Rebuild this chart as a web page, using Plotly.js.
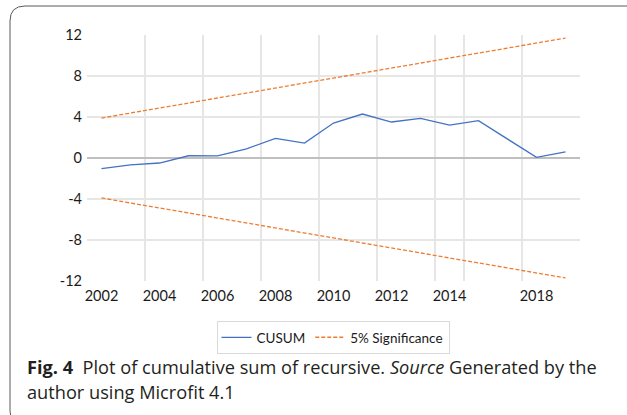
<!DOCTYPE html>
<html>
<head>
<meta charset="utf-8">
<script src="https://cdn.plot.ly/plotly-3.0.1.min.js"></script>
<style>html,body{margin:0;padding:0;background:#fff;}#chart{width:627px;height:415px;}</style>
</head>
<body>
<div id="chart"></div>
<script>
// Observation positions on the category axis (one slot between 2015 and the last two points is empty)
const obsPositions = [0,1,2,3,4,5,6,7,8,9,10,11,12,13,15,16];
const cusum = [-1.04,-0.68,-0.49,0.22,0.2,0.9,1.91,1.46,3.41,4.29,3.51,3.86,3.2,3.64,0.06,0.59];
const upper5 = [3.9,4.39,4.88,5.36,5.85,6.34,6.83,7.31,7.8,8.29,8.78,9.26,9.75,10.24,11.21,11.7];
const lower5 = [-3.9,-4.39,-4.88,-5.36,-5.85,-6.34,-6.83,-7.31,-7.8,-8.29,-8.78,-9.26,-9.75,-10.24,-11.21,-11.7];
const xTickPositions = [0,2,4,6,8,10,12,15];
const xTickLabels = ['2002','2004','2006','2008','2010','2012','2014','2018'];
const xGridPositions = [1.5,3.5,5.5,7.5,9.5,11.5,12.5,14.5];
const yTickValues = [-12,-8,-4,0,4,8,12];
const yGridValues = [-8,-4,4,8];

const L = 87, R = 580, T = 35, B = 281;
const fx = px => (px - L) / (R - L);
const fy = py => (B - py) / (B - T);

const tickFont = {family: 'Lato, "Open Sans", sans-serif', size: 14.5, color: '#1a1a1a'};

const traces = [
  {x: obsPositions, y: cusum, type: 'scatter', mode: 'lines', name: 'CUSUM',
   line: {color: '#4472C4', width: 1.3}},
  {x: obsPositions, y: upper5, type: 'scatter', mode: 'lines', name: '5% Significance',
   legendgroup: 'sig', line: {color: '#ED7D31', width: 1.3, dash: '4px,2px'}},
  {x: obsPositions, y: lower5, type: 'scatter', mode: 'lines', name: '5% Significance',
   legendgroup: 'sig', showlegend: false, line: {color: '#ED7D31', width: 1.3, dash: '4px,2px'}}
];

const framePath = 'M ' + fx(25) + ',' + fy(426) + ' Q ' + fx(10) + ',' + fy(426) + ' ' + fx(10) + ',' + fy(411) +
  ' L ' + fx(10) + ',' + fy(21) + ' Q ' + fx(10) + ',' + fy(6) + ' ' + fx(25) + ',' + fy(6) +
  ' L ' + fx(650) + ',' + fy(6);

const layout = {
  width: 627, height: 415,
  margin: {l: L, r: 627 - R, t: T, b: 415 - B},
  paper_bgcolor: '#ffffff', plot_bgcolor: '#ffffff',
  showlegend: true,
  legend: {orientation: 'h', x: fx(333), xanchor: 'center', y: fy(321), yanchor: 'top',
           bordercolor: '#D9D9D9', borderwidth: 1, bgcolor: '#ffffff',
           font: {family: 'Lato, "Open Sans", sans-serif', size: 13.5, color: '#1a1a1a'},
           itemwidth: 30},
  xaxis: {range: [-0.5, 16.5], tickmode: 'array', tickvals: xTickPositions, ticktext: xTickLabels,
          showgrid: false, zeroline: false, showline: false, ticks: '', tickfont: tickFont,
          ticklabelstandoff: 4,
          minor: {tickmode: 'array', tickvals: xGridPositions, showgrid: true, gridcolor: '#E6E6E6', gridwidth: 1.3, ticks: ''}},
  yaxis: {range: [-12, 12], tickmode: 'array', tickvals: yTickValues, ticktext: yTickValues.map(String),
          showgrid: false, zeroline: true, zerolinecolor: '#BFBFBF', zerolinewidth: 1.3,
          showline: false, ticks: '', tickfont: tickFont, ticklabelstandoff: 4,
          minor: {tickmode: 'array', tickvals: yGridValues, showgrid: true, gridcolor: '#E6E6E6', gridwidth: 1.3, ticks: ''}},
  shapes: [
    {type: 'path', xref: 'paper', yref: 'paper', path: framePath, line: {color: '#5a5a5a', width: 1}, layer: 'above'}
  ],
  annotations: [
    {xref: 'paper', yref: 'paper', x: fx(25), y: fy(367), xanchor: 'left', yanchor: 'middle', showarrow: false,
     text: '<b>Fig. 4</b>  Plot of cumulative sum of recursive. <i>Source</i> Generated by the',
     font: {family: '"Open Sans", sans-serif', size: 18.2, color: '#231f20'}},
    {xref: 'paper', yref: 'paper', x: fx(25), y: fy(392), xanchor: 'left', yanchor: 'middle', showarrow: false,
     text: 'author using Microfit 4.1',
     font: {family: '"Open Sans", sans-serif', size: 18.2, color: '#231f20'}}
  ]
};

Plotly.newPlot('chart', traces, layout, {displayModeBar: false, staticPlot: true});
</script>
</body>
</html>
